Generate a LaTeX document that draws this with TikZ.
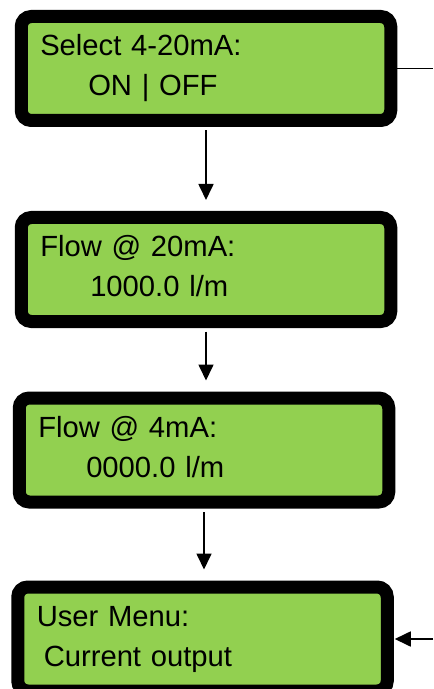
\documentclass[tikz,border=0pt]{standalone}
\usepackage{fontspec}
\setmainfont{Liberation Sans}
\usetikzlibrary{arrows.meta}
\definecolor{lcdgreen}{RGB}{146,208,80}

\begin{document}
\begin{tikzpicture}[x=0.5pt, y=-0.5pt, >={Triangle[width=7.5pt, length=8pt]},
  lcd/.style={draw, line width=6.5pt, rounded corners=5pt, fill=lcdgreen,
    minimum width=184.75pt, minimum height=52pt, inner xsep=9.5pt, outer sep=3.25pt,
    text width=165.75pt, align=left, text height=10pt, text depth=23pt,
    font=\fontsize{14.6}{20}\selectfont},
  link/.style={->, line width=0.85pt, shorten <=1.75pt, shorten >=5.5pt}]
  \useasboundingbox (0, 0) rectangle (433, 689);
  % display screens
  \node[lcd] (sel) at (206, 68.5) {Select 4-20mA:\\\hspace*{24pt}ON | OFF};
  \node[lcd] (hi) at (206, 269.5) {Flow @ 20mA:\\\hspace*{25pt}1000.0 l/m};
  \node[lcd] (lo) at (204, 450) {Flow @ 4mA:\\\hspace*{24pt}0000.0 l/m};
  \node[lcd] (menu) at (202.5, 639) {User Menu:\\\hspace*{3.5pt}Current output};
  % flow between screens
  \draw[link] (sel.south) -- (sel.south |- hi.north);
  \draw[link] (hi.south) -- (hi.south |- lo.north);
  \draw[link] (lo.south) -- (lo.south |- menu.north);
  \coordinate (out) at (433, 68.5);
  \coordinate (back) at (433, 639);
  \draw[line width=0.85pt] (sel.east) -- (out);
  \draw[link, shorten <=0pt, shorten >=0.5pt] (back) -- (menu.east);
\end{tikzpicture}
\end{document}
